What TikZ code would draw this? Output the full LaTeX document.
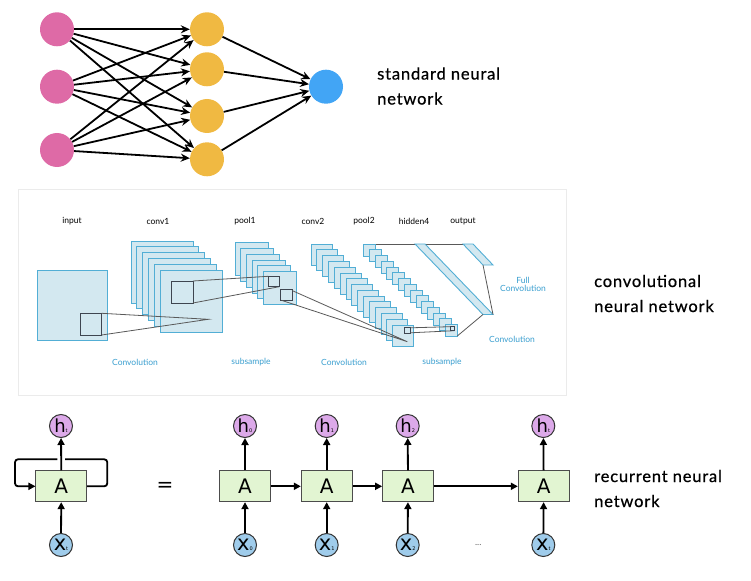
\documentclass[tikz,border=0pt]{standalone}
\usepackage{fontspec}
\setmainfont{Lato}
\newfontfamily\lbl[LetterSpace=5,FakeBold=0.7]{Lato}
\newfontfamily\dv{DejaVu Sans}
\usetikzlibrary{arrows.meta,calc}
\definecolor{pinkc}{HTML}{DE6AA6}
\definecolor{orangec}{HTML}{F0B942}
\definecolor{bluec}{HTML}{42A5F5}
\definecolor{cnnfill}{HTML}{D3E8F0}
\definecolor{cnnedge}{HTML}{52AED5}
\definecolor{cnntext}{HTML}{3A9FD0}
\definecolor{kern}{HTML}{3E4550}
\definecolor{panel}{HTML}{EBEBEB}
\definecolor{hfill}{HTML}{DCA9E9}
\definecolor{xfill}{HTML}{9FCCEB}
\definecolor{afill}{HTML}{E2F5D2}
\definecolor{dark}{HTML}{333333}
\tikzset{
  neuron/.style={circle, minimum size=34pt, inner sep=0pt},
  annarrow/.style={-{Stealth[length=9pt,width=8pt]}, line width=1.8pt},
  fm/.style={fill=cnnfill, draw=cnnedge, line width=0.9pt},
  kbox/.style={draw=kern, line width=1pt},
  kline/.style={draw=black!65, line width=0.8pt},
  cnnlbl/.style={font=\fontsize{8.5}{9}\selectfont, text=black},
  cnnblue/.style={font=\fontsize{8.5}{9}\selectfont, text=cnntext, align=center},
  biglbl/.style={font=\lbl\fontsize{16.5}{25}\selectfont, align=left, anchor=west, inner sep=0pt},
  abox/.style={draw=black!70, fill=afill, minimum width=50.7pt, minimum height=30.7pt, line width=1pt, inner sep=0pt, font=\dv\fontsize{20}{20}\selectfont},
  hcirc/.style={circle, draw=dark, fill=hfill, minimum size=23pt, inner sep=0pt, line width=1pt},
  xcirc/.style={circle, draw=dark, fill=xfill, minimum size=23pt, inner sep=0pt, line width=1pt},
  rarrow/.style={-{Triangle[length=7pt,width=7pt]}, line width=1.8pt},
}
\newcommand{\clab}[3]{{\dv\fontsize{#3}{#3}\selectfont #1}{\dv\fontsize{5}{5}\selectfont #2}}
\begin{document}
\begin{tikzpicture}[x=1pt,y=-1pt]
\useasboundingbox (0,0) rectangle (751,580);

% ---------------- standard neural network
\node[neuron, fill=pinkc] (i1) at (57,29.3) {};
\node[neuron, fill=pinkc] (i2) at (57,86.7) {};
\node[neuron, fill=pinkc] (i3) at (57,150) {};
\node[neuron, fill=orangec] (h1) at (207,29.3) {};
\node[neuron, fill=orangec] (h2) at (207,69.3) {};
\node[neuron, fill=orangec] (h3) at (207,116) {};
\node[neuron, fill=orangec] (h4) at (207,159.3) {};
\node[neuron, fill=bluec] (o) at (326,86.7) {};
\foreach \i in {1,2,3}{\foreach \j in {1,...,4}{\draw[annarrow] (i\i) -- (h\j);}}
\foreach \j in {1,...,4}{\draw[annarrow] (h\j) -- (o);}
\node[biglbl] (tann) at (377,86) {standard neural\\network};

% ---------------- CNN
\draw[panel, fill=white, line width=0.8pt] (18,189.5) rectangle (566.5,395);
\node[cnnlbl] (l1) at (72,221) {input};
\node[cnnlbl] (l2) at (158,221) {conv1};
\node[cnnlbl] (l3) at (245,221) {pool1};
\node[cnnlbl] (l4) at (313,221) {conv2};
\node[cnnlbl] (l5) at (364,221) {pool2};
\node[cnnlbl] (l6) at (414,221) {hidden4};
\node[cnnlbl] (l7) at (463,221) {output};
\node[cnnblue] (b1) at (135,362) {Convolution};
\node[cnnblue] (b2) at (251,362) {subsample};
\node[cnnblue] (b3) at (344,362) {Convolution};
\node[cnnblue] (b4) at (442,362) {subsample};
\node[cnnblue] (b5) at (523,284.5) {Full\\[-1.5pt]Convolution};
\node[cnnblue] (b6) at (512,339) {Convolution};

% input
\draw[fm] (37.5,270.5) rectangle (107.5,340.5);
\draw[kbox] (80,313.3) rectangle (101.7,335);
% conv1
\foreach \k in {0,...,5}{\draw[fm] ({131+\k*5.8},{241+\k*5.8}) rectangle ++(62,62);}
\draw[kline] (101.7,313.3) -- (208.3,319.3) -- (101.7,335);
\draw[kbox] (171,281) rectangle (193,303);
% pool1
\foreach \k in {0,...,5}{\draw[fm] ({235+\k*5.7},{242.7+\k*5.8}) rectangle ++(33,33);}
\draw[kline] (193,281) -- (268.3,276.3);
\draw[kline] (193,303) -- (279.3,286.7);
\draw[kbox] (268.3,276.3) rectangle (279.3,286.7);
\draw[kbox] (280.7,289.3) rectangle (292,300.3);
% conv2
\foreach \k in {0,...,14}{\draw[fm] ({311+\k*5.83},{244+\k*5.79}) rectangle ++(21,21);}
\draw[kline] (292,290.5) -- (407.3,341.7) -- (281.5,300.3);
% pool2
\foreach \k in {0,...,14}{\draw[fm] ({363.5+\k*5.83},{244+\k*5.75}) rectangle ++(12,12);}
% hidden4 and output
\draw[kline] (375.5,244) -- (473,244);
\draw[fm] (415,244) -- (425,244) -- (493,314.5) -- (483,314.5) -- cycle;
\draw[fm] (463,244) -- (473,244) -- (493,265) -- (483,265) -- cycle;
\draw[kline] (483,265) -- (493,314.5);
\draw[kline] (483,314.5) -- (457.3,336);
\draw[kbox] (404.3,327.7) rectangle (410.5,333);
\draw[kline] (410.5,327.8) -- (450,326.7);
\draw[kline] (410.5,332.8) -- (454.3,330.7);
\draw[kbox] (450,326.7) rectangle (454.3,330.7);
\node[biglbl] (tcnn) at (594,293.5) {convolutional\\neural network};

% ---------------- RNN
\node[abox] (Al) at (61.3,486.3) {A};
\node[hcirc] (hl) at (61,426) {\clab{h}{t}{18}};
\node[xcirc] (xl) at (61,545) {\clab{x}{t}{21}};
\draw[rarrow] (xl) -- (Al);
\coordinate (lr1) at (107.3,486.3);
\coordinate (lr2) at (107.3,459.3);
\coordinate (gr) at (65,459.3);
\coordinate (gl) at (57.3,459.3);
\coordinate (ll1) at (15,459.3);
\coordinate (ll2) at (15,486.3);
\draw[line width=1.8pt, rounded corners=3pt] (Al.east) -- (lr1) -- (lr2) -- (gr);
\draw[rarrow, rounded corners=3pt] (gl) -- (ll1) -- (ll2) -- (Al.west);
\draw[rarrow] (Al) -- (hl);

\node[font=\dv\fontsize{20}{20}\selectfont] (eq) at (165,487) {=};

\node[abox] (A0) at (245,486.3) {A};
\node[abox] (A1) at (326.7,486.3) {A};
\node[abox] (A2) at (408,486.3) {A};
\node[abox] (At) at (543.7,486.3) {A};
\node[hcirc] (h0) at (245,426) {\clab{h}{0}{18}};
\node[hcirc] (h1r) at (326.7,426) {\clab{h}{1}{18}};
\node[hcirc] (h2r) at (407.7,426) {\clab{h}{2}{18}};
\node[hcirc] (htr) at (543.3,426) {\clab{h}{t}{18}};
\node[xcirc] (x0) at (245,545) {\clab{x}{0}{21}};
\node[xcirc] (x1) at (326.7,545) {\clab{x}{1}{21}};
\node[xcirc] (x2) at (407.7,545) {\clab{x}{2}{21}};
\node[xcirc] (xt) at (543.3,545) {\clab{x}{t}{21}};
\foreach \n/\h/\x in {A0/h0/x0, A1/h1r/x1, A2/h2r/x2, At/htr/xt}{
  \draw[rarrow] (\x) -- (\n);
  \draw[rarrow] (\n) -- (\h);
}
\draw[rarrow] (A0) -- (A1);
\draw[rarrow] (A1) -- (A2);
\draw[rarrow] (A2) -- (At);
\node[font=\fontsize{9}{9}\selectfont, text=black!60] (dots) at (478.3,545) {...};
\node[biglbl] (trnn) at (594,488.5) {recurrent neural\\network};
\end{tikzpicture}
\end{document}
